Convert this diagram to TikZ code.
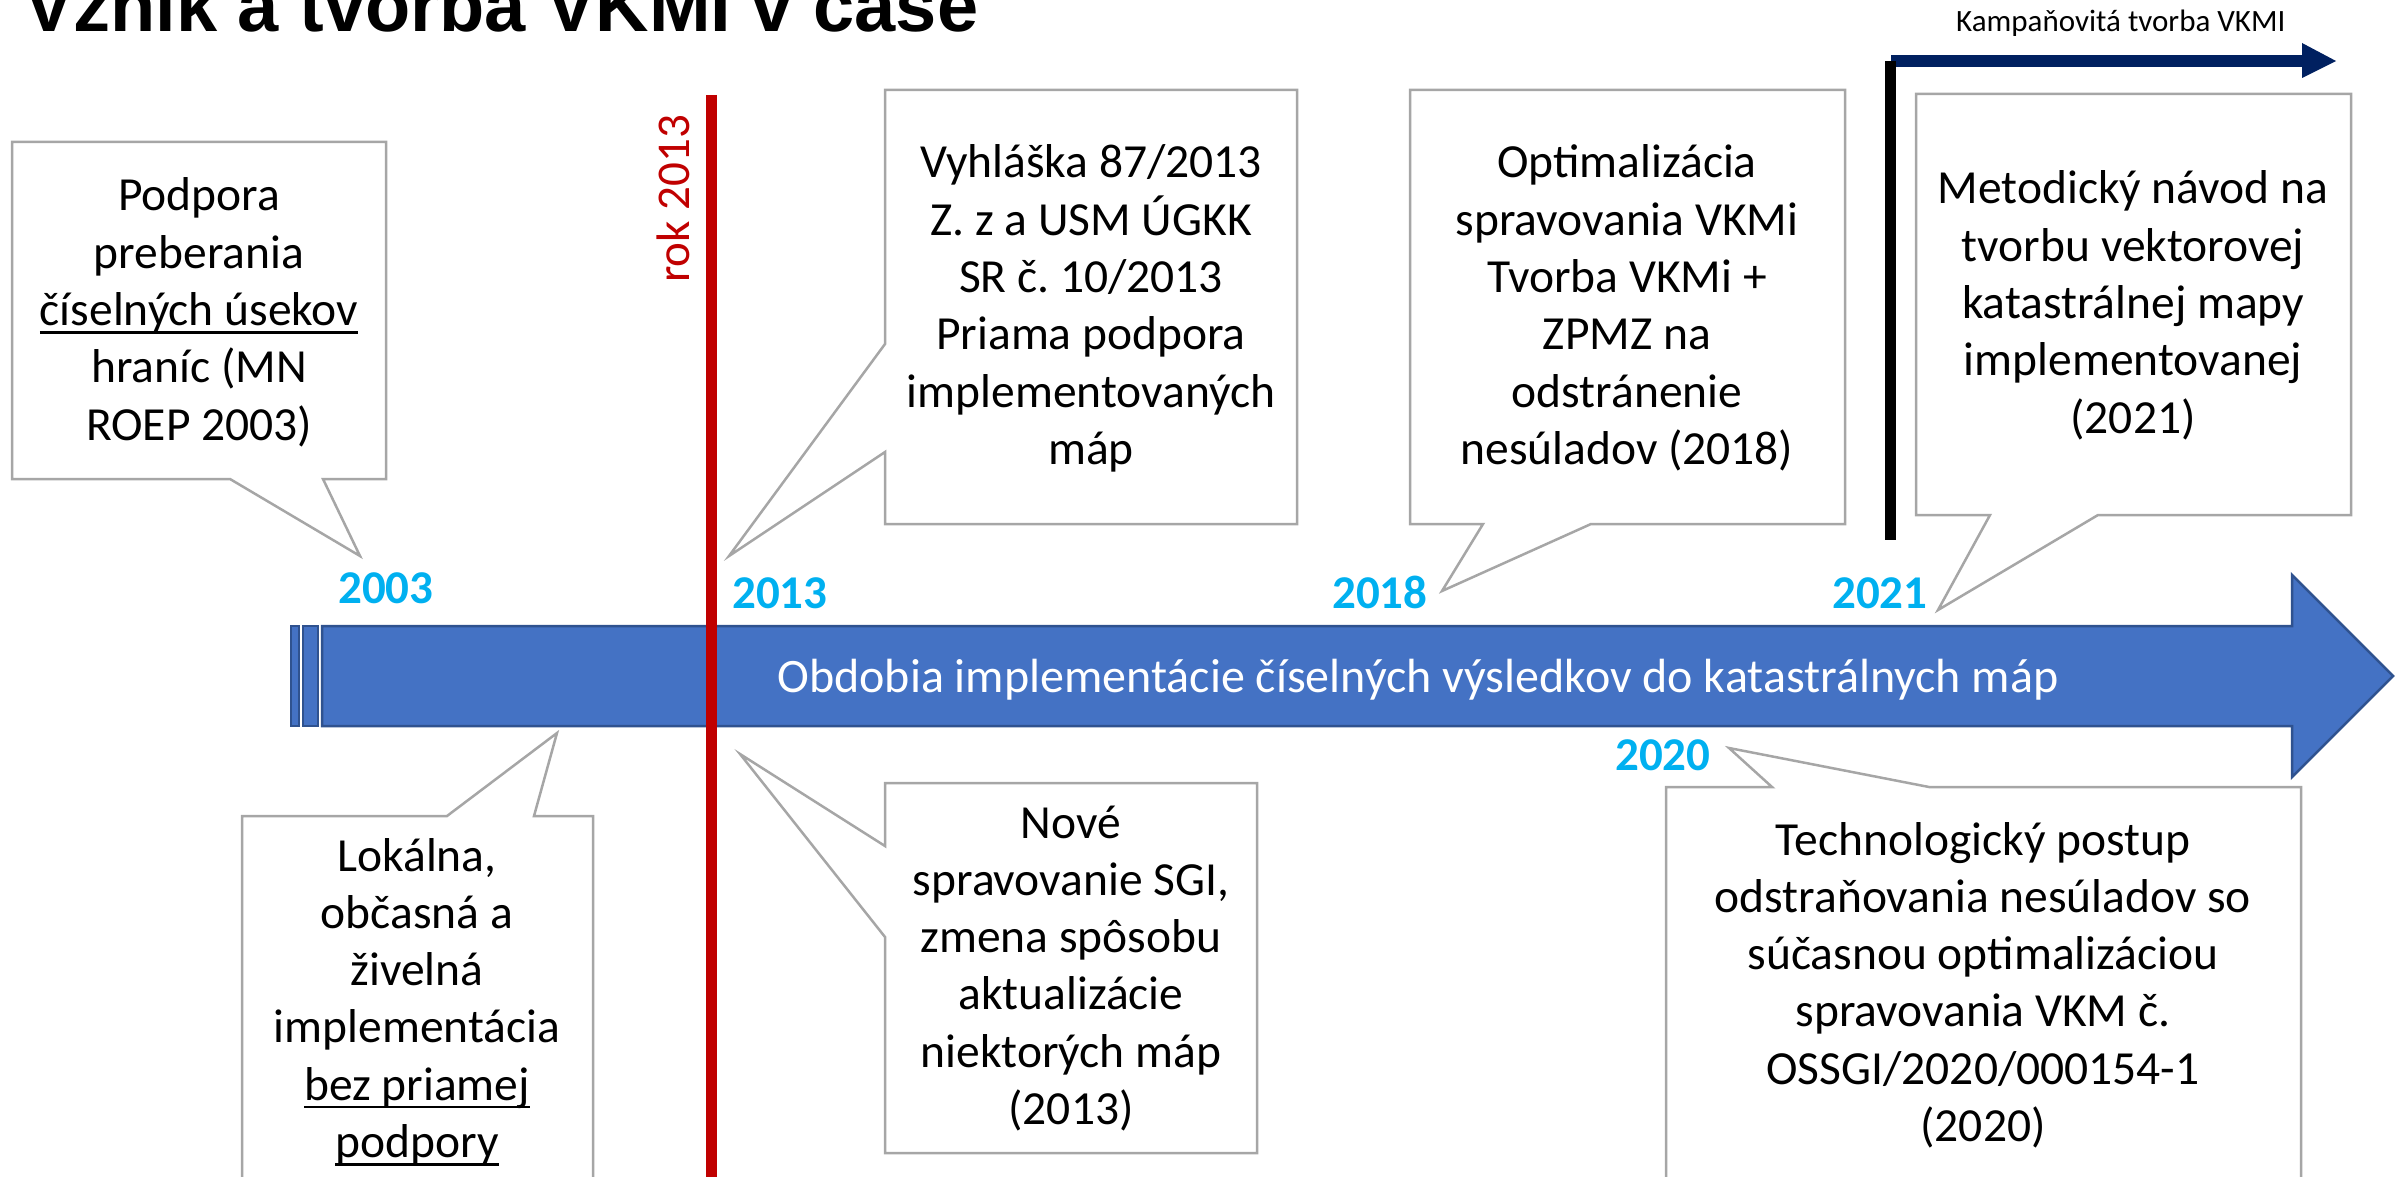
\documentclass[tikz,border=0pt]{standalone}
\usepackage{fontspec}
\setmainfont{Carlito}
\newfontfamily\titlefont{Liberation Sans}
\definecolor{cgray}{HTML}{A6A6A6}
\definecolor{barfill}{HTML}{4472C4}
\definecolor{barline}{HTML}{2F528F}
\definecolor{yearblue}{HTML}{00B0F0}
\definecolor{redline}{HTML}{C00000}
\definecolor{navy}{HTML}{002060}
\newsavebox\ulbox
\newcommand\ulx[1]{\leavevmode\sbox\ulbox{#1}\rlap{\rule[-0.17em]{\wd\ulbox}{0.055em}}\usebox\ulbox}
\frenchspacing
\tikzset{
  callout/.style={draw=cgray, line width=2.5pt, fill=white, line join=miter},
  ctext/.style={text width=620pt, align=flush center, anchor=base, inner sep=0pt, font=\fontsize{47.5}{57.3}\selectfont},
  year/.style={anchor=base west, inner sep=0pt, text=yearblue, font=\fontsize{47}{57}\selectfont\bfseries},
  barpart/.style={fill=barfill, draw=barline, line width=2.5pt},
}
\begin{document}
\begin{tikzpicture}[x=1pt,y=-1pt]
\useasboundingbox (0,0) rectangle (2405,1177);
% title
\node[anchor=base west, inner sep=0pt, font=\titlefont\bfseries\fontsize{74}{80}\selectfont] (title) at (24,32) {Vznik a tvorba VKMI v čase};
% main bar
\draw[barpart] (291,626) rectangle (299,726);
\draw[barpart] (303,626) rectangle (318,726);
\draw[barpart] (322,626) -- (2292,626) -- (2292,575) -- (2393,676) -- (2292,777) -- (2292,726) -- (322,726) -- cycle;
\node[anchor=base, inner sep=0pt, text=white, font=\fontsize{48}{57}\selectfont] (bartext) at (1418,692) {Obdobia implementácie číselných výsledkov do katastrálnych máp};
% red 2013 line
\draw[redline, line width=11pt] (711,95) -- (711,1177);
\node[rotate=90, anchor=base, inner sep=0pt, text=redline, font=\fontsize{47}{57}\selectfont] (rok) at (689,199) {rok 2013};
% campaign arrow
\draw[navy, line width=12pt] (1891,61) -- (2303,61);
\fill[navy] (2302,43) -- (2336,61) -- (2302,78) -- cycle;
\draw[black, line width=11pt] (1890,61) -- (1890,540);
\node[anchor=base west, inner sep=0pt, font=\fontsize{31}{36}\selectfont] (kamp) at (1956,32) {Kampaňovitá tvorba VKMI};
% callouts
\draw[callout] (12,142) -- (386,142) -- (386,479) -- (323,479) -- (360,556) -- (230,479) -- (12,479) -- cycle;
\node[ctext] (c1) at (199,211) {Podpora\\preberania\\\ulx{číselných úsekov}\\hraníc (MN\\ROEP 2003)};
\draw[callout] (242,1190) -- (242,816) -- (447,816) -- (557,733) -- (534,816) -- (593,816) -- (593,1190);
\node[ctext] (c2) at (417,871) {Lokálna,\\občasná a\\živelná\\implementácia\\\ulx{bez priamej}\\\ulx{podpory}};
\draw[callout] (885,90) -- (1297,90) -- (1297,524) -- (885,524) -- (885,452) -- (729,556) -- (885,344) -- cycle;
\node[ctext] (c3) at (1091,178) {Vyhláška 87/2013\\Z. z a USM ÚGKK\\SR č. 10/2013\\Priama podpora\\implementovaných\\máp};
\draw[callout] (1410,90) -- (1845,90) -- (1845,524) -- (1591,524) -- (1442,591) -- (1483,524) -- (1410,524) -- cycle;
\node[ctext] (c4) at (1627,178) {Optimalizácia\\spravovania VKMi\\Tvorba VKMi +\\ZPMZ na\\odstránenie\\nesúladov (2018)};
\draw[callout] (885,783) -- (1257,783) -- (1257,1153) -- (885,1153) -- (885,937) -- (740,754) -- (885,846) -- cycle;
\node[ctext] (c5) at (1071,838) {Nové\\spravovanie SGI,\\zmena spôsobu\\aktualizácie\\niektorých máp\\(2013)};
\draw[callout] (1916,94) -- (2351,94) -- (2351,515) -- (2098,515) -- (1938,610) -- (1990,515) -- (1916,515) -- cycle;
\node[ctext] (c6) at (2133,204) {Metodický návod na\\tvorbu vektorovej\\katastrálnej mapy\\implementovanej\\(2021)};
\draw[callout] (1666,1190) -- (1666,787) -- (1772,787) -- (1729,748) -- (1929,787) -- (2301,787) -- (2301,1190);
\node[ctext] (c7) at (1983,855) {Technologický postup\\odstraňovania nesúladov so\\súčasnou optimalizáciou\\spravovania VKM č.\\OSSGI/2020/000154-1\\(2020)};
% years
\node[year] (y2003) at (338,603) {2003};
\node[year] (y2013) at (732,608) {2013};
\node[year] (y2018) at (1332,608) {2018};
\node[year] (y2021) at (1832,608) {2021};
\node[year] (y2020) at (1615,770) {2020};
\end{tikzpicture}
\end{document}
